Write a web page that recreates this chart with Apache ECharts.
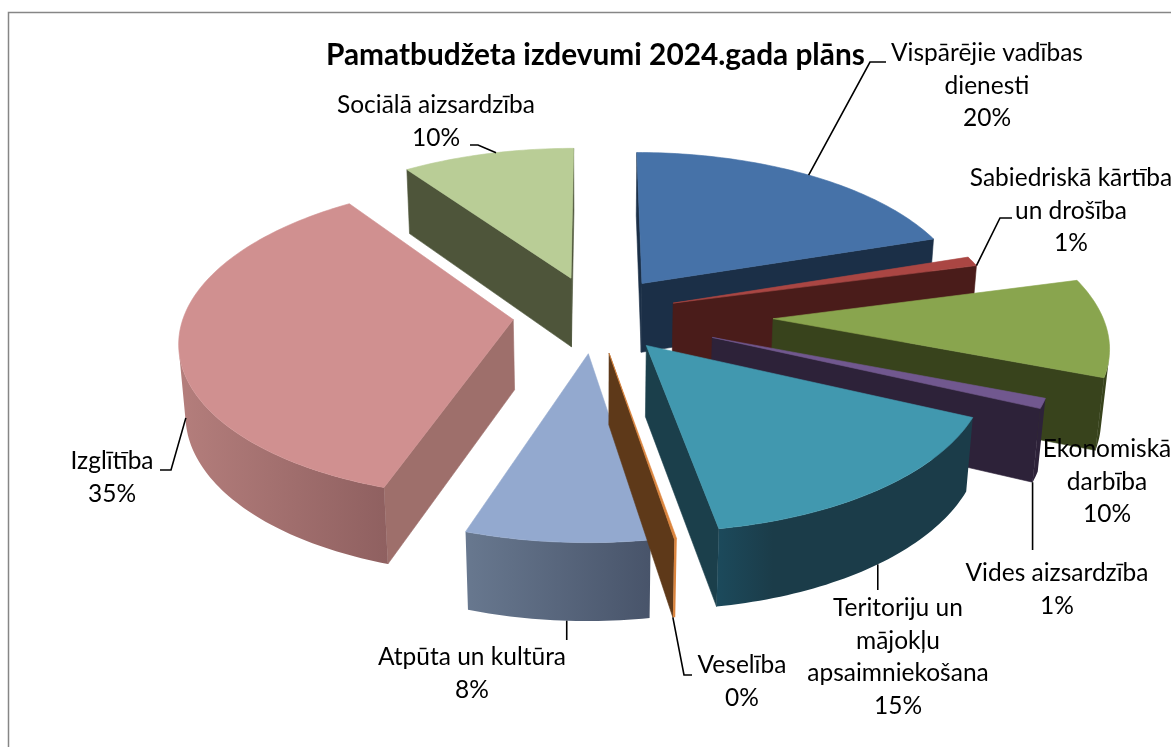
<!DOCTYPE html>
<html><head><meta charset="utf-8">
<style>html,body{margin:0;padding:0;background:#fff}#c{width:1171px;height:747px}</style>
<script src="https://cdn.jsdelivr.net/npm/echarts@6/dist/echarts.min.js"></script>
</head><body><div id="c"></div>
<script>
var titleText = 'Pamatbudžeta izdevumi 2024.gada plāns';
var categories = ['Vispārējie vadības\ndienesti','Sabiedriskā kārtība\nun drošība','Ekonomiskā\ndarbība','Vides aizsardzība','Teritoriju un\nmājokļu\napsaimniekošana','Veselība','Atpūta un kultūra','Izglītība','Sociālā aizsardzība'];
var values = [19.9, 1.0, 10.0, 1.0, 15.4, 0.1, 7.7, 35.2, 9.7];
var shownPercents = [20, 1, 10, 1, 15, 0, 8, 35, 10];

// styling and layout, separate from the data
var explode = [.25,.25,.54,.38,.25,.25,.25,.25,.25];
var drawOrder = [0,8,1,2,7,3,4,6,5];
var topColors = ['#4672a8','#aa4643','#89a54e','#71588f','#4198af','#db843d','#93a9cf','#d09090','#b9cd96'];
var radialColors = ['#1b2f47','#4a1c1a','#38431c','#2d2239','#1b3f4b','#5e3919','#4c5a70','#9e6f6b','#4e553a'];
var outerFrom = ['#1b2f47','#4a1c1a','#38431c','#2d2239','#1c4a5c','#db843d','#68788f','#b47e7c','#4e553a'];
var outerTo = ['#1b2f47','#4a1c1a','#38431c','#2d2239','#1b3c49','#db843d','#48546a','#8f6060','#4e553a'];
var outerKnee = [1,1,1,1,.22,1,1,1,1];
var labelPos = [[987,37],[1071,162],[1107,433],[1057,557],[898,592],[742,649],[472,641],[112,445],[436,89]];
var leaderBends = [[[870,62],[886,62]],[[1000,218],[1012,218]],null,[[null,550]],[[null,590]],[[684,675],[692,675]],[[null,640]],[[171,470],[160,470]],[[478,145],[470,145]]];
var leaderAnchor = [[.5,0],[1,0],null,[1,1],[.49,1],[1,1],[.45,1],[.45,.8],[.55,0]];

var CX=595, CY=314, A=329, D=7.07, H=.245, TILT=28*Math.PI/180;
var F=A*D, sinT=Math.sin(TILT), cosT=Math.cos(TILT);
function project(x,y,z){var w=D+y*cosT-z*sinT;return [CX+F*x/w, CY-F*(y*sinT+z*cosT)/w];}
var total=values.reduce(function(a,b){return a+b},0);
var starts=[],acc=0;values.forEach(function(v){starts.push(acc/total*2*Math.PI);acc+=v;});
function ends(i){return starts[i]+values[i]/total*2*Math.PI;}
function pt(i,r,t,z){var m=(starts[i]+ends(i))/2,e=explode[i];return project(r*Math.sin(t)+e*Math.sin(m),r*Math.cos(t)+e*Math.cos(m),z);}
function area(p){var s=0;for(var k=0;k<p.length;k++){var q=p[(k+1)%p.length];s+=p[k][0]*q[1]-q[0]*p[k][1];}return s;}
function poly(p,c,z2){return {type:'polygon',shape:{points:p},z2:z2,style:{fill:c,stroke:typeof c==='string'?c:null,lineWidth:.6}};}

function renderSlice(params,api){
  var i=api.value(0),a=starts[i],b=ends(i),ch=[],o=params.dataIndex*10;
  var start=[pt(i,0,a,0),pt(i,1,a,0),pt(i,1,a,-H),pt(i,0,a,-H)];
  var end=[pt(i,1,b,0),pt(i,0,b,0),pt(i,0,b,-H),pt(i,1,b,-H)];
  if(area(start)<0)ch.push(poly(start,radialColors[i],o));
  if(area(end)<0)ch.push(poly(end,radialColors[i],o));
  var n=Math.max(2,Math.ceil((b-a)/.02)),upper=[],lower=[];
  for(var k=0;k<n;k++){var t0=a+(b-a)*k/n,t1=a+(b-a)*(k+1)/n;
    var q=[pt(i,1,t0,0),pt(i,1,t1,0),pt(i,1,t1,-H),pt(i,1,t0,-H)];
    if(area(q)<0){
      if(!upper.length){upper.push(q[0]);lower.push(q[3]);}
      upper.push(q[1]);lower.push(q[2]);
    }}
  if(upper.length){
    var wall=upper.concat(lower.slice().reverse());
    var xs=wall.map(function(p){return p[0]});
    var grad={type:'linear',global:true,x:Math.min.apply(null,xs),y:0,x2:Math.max.apply(null,xs),y2:0,
      colorStops:[{offset:0,color:outerFrom[i]},{offset:outerKnee[i],color:outerTo[i]},{offset:1,color:outerTo[i]}]};
    ch.push(poly(wall,grad,o+1));
  }
  var topP=[pt(i,0,a,0)];
  for(var k=0;k<=n;k++)topP.push(pt(i,1,a+(b-a)*k/n,0));
  ch.push(poly(topP,topColors[i],o+2));
  return {type:'group',children:ch};
}
function renderLabel(params,api){
  var i=api.value(0),ch=[];
  ch.push({type:'text',z2:1000,style:{text:categories[i]+'\n'+shownPercents[i]+'%',x:labelPos[i][0],y:labelPos[i][1],align:'center',verticalAlign:'top',fill:'#000',font:'24.5px Lato',lineHeight:32.5}});
  if(leaderBends[i]){
    var an=leaderAnchor[i],m=starts[i]+(ends(i)-starts[i])*an[0];
    var p0=pt(i,1,m,-H*an[1]);
    var pts=leaderBends[i].map(function(p){return [p[0]===null?p0[0]:p[0],p[1]]});
    ch.push({type:'polyline',z2:999,shape:{points:[p0].concat(pts)},style:{stroke:'#000',lineWidth:1.6,fill:null}});
  }
  return {type:'group',children:ch};
}
var chart=echarts.init(document.getElementById('c'),null,{renderer:'canvas'});
chart.setOption({
  animation:false,backgroundColor:'#fff',
  title:{text:titleText,left:321,top:35,textStyle:{fontFamily:'Lato',fontWeight:'bold',fontSize:29.8,color:'#000'}},
  graphic:[{type:'polyline',silent:true,shape:{points:[[1171,12.5],[8.5,12.5],[8.5,747]]},style:{stroke:'#868686',lineWidth:1.5,fill:null}}],
  series:[
    {type:'custom',coordinateSystem:'none',silent:true,renderItem:renderSlice,data:drawOrder.map(function(i){return [i,values[i]]})},
    {type:'custom',coordinateSystem:'none',silent:true,z:5,renderItem:renderLabel,data:categories.map(function(c,i){return [i]})}
  ]
});
</script></body></html>
